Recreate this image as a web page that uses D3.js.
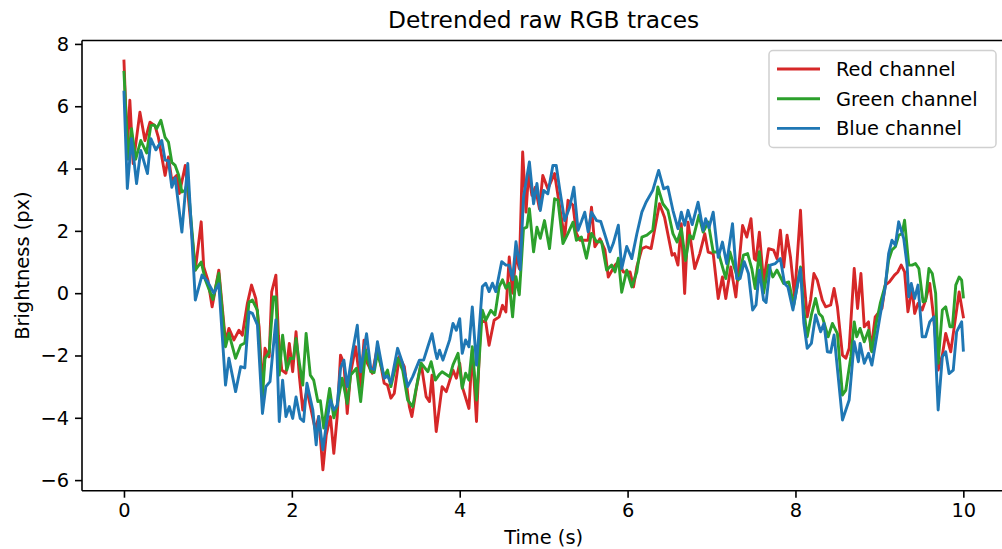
<!DOCTYPE html>
<html>
<head>
<meta charset="utf-8">
<script src="https://cdn.jsdelivr.net/npm/d3@7"></script>
<style>
  html, body { margin: 0; padding: 0; background: #fff; }
  svg { display: block; font-family: "DejaVu Sans", sans-serif; }
</style>
</head>
<body>
<svg id="chart" width="1002" height="549"></svg>
<script>
// ---- data (time in s, brightness in px) ----
const xTicks = [0, 2, 4, 6, 8, 10];
const yTicks = [-6, -4, -2, 0, 2, 4, 6, 8];
const seriesNames = ["Red channel", "Green channel", "Blue channel"];
const seriesColors = ["#d62728", "#2ca02c", "#1f77b4"];

const redData = [
[0,7.45],[0.04,4.6],[0.07,6.19],[0.11,4.16],[0.19,5.81],[0.25,4.9],[0.31,5.49],[0.37,5.37],[0.41,5.0],[0.49,3.78],[0.53,4.37],[0.57,3.62],[0.63,3.78],[0.66,3.2],[0.73,4.1],[0.85,0.74],[0.92,2.29],[0.95,0.84],[1.0,0.42],[1.05,-0.44],[1.13,0.74],
[1.21,-1.56],[1.25,-1.13],[1.31,-1.5],[1.37,-1.19],[1.41,-1.35],[1.47,-0.33],[1.52,0.26],[1.57,-0.17],[1.61,-1.08],[1.65,-3.1],[1.68,-1.77],[1.73,-2.04],[1.76,0.04],[1.81,0.58],[1.84,-1.35],[1.88,-2.47],[1.93,-2.57],[1.97,-1.61],[2.01,-2.52],[2.05,-1.24],[2.09,-2.68],[2.13,-3.75],[2.18,-3.11],[2.28,-4.39],[2.32,-3.96],[2.37,-5.67],[2.41,-4.55],[2.46,-3.96],[2.5,-5.14],
[2.54,-3.96],[2.58,-1.99],[2.62,-2.25],[2.66,-3.86],[2.7,-2.57],[2.76,-1.72],[2.82,-3.0],[2.86,-1.51],[2.9,-2.25],[2.96,-2.57],[3.02,-1.72],[3.1,-2.89],[3.14,-2.95],[3.18,-3.37],[3.22,-3.22],[3.28,-2.04],[3.34,-2.36],[3.4,-3.64],[3.43,-3.96],[3.48,-3.11],[3.54,-2.25],[3.6,-3.32],[3.64,-3.48],[3.67,-2.63],[3.72,-4.44],
[3.79,-3.0],[3.84,-3.16],[3.92,-2.47],[3.96,-2.73],[4.0,-2.25],[4.03,-3.0],[4.11,-3.7],[4.15,-1.83],[4.2,-4.12],[4.25,-0.87],[4.31,-0.92],[4.35,-1.67],[4.41,-0.87],[4.47,-0.76],[4.51,-0.39],[4.55,-0.6],[4.59,1.16],[4.63,0.0],[4.67,1.22],[4.71,0.79],[4.75,4.53],[4.79,2.6],[4.82,3.84],[4.86,3.14],[4.9,3.4],[4.95,2.71],[4.99,3.78],
[5.05,3.35],[5.13,3.84],[5.17,3.14],[5.25,1.75],[5.29,2.98],[5.35,2.82],[5.39,1.92],[5.43,1.7],[5.53,1.7],[5.57,2.76],[5.61,1.49],[5.67,1.75],[5.73,1.39],[5.77,0.52],[5.85,0.9],[5.89,1.0],[5.95,0.68],[6.03,0.68],[6.07,0.2],[6.11,0.84],[6.17,1.43],
[6.22,1.49],[6.28,1.43],[6.38,2.87],[6.44,2.44],[6.53,1.22],[6.56,1.27],[6.6,0.9],[6.64,2.23],[6.68,-0.01],[6.72,2.28],[6.8,0.79],[6.86,1.27],[6.92,1.91],[6.96,1.32],[7.02,1.27],[7.08,-0.17],[7.13,0.52],[7.17,-0.17],[7.23,0.84],[7.29,-0.12],[7.37,2.17],[7.42,1.8],[7.47,2.39],[7.51,1.11],
[7.53,1.06],[7.57,1.96],[7.62,0.36],[7.68,1.43],[7.74,1.38],[7.78,1.11],[7.82,2.02],[7.86,0.84],[7.9,1.86],[7.94,1.17],[7.99,-0.12],[8.06,2.66],[8.1,0.47],[8.14,-0.76],[8.18,-0.22],[8.22,0.63],[8.26,0.42],[8.32,-0.22],[8.36,-0.44],[8.42,-0.38],[8.46,0.15],[8.5,-0.44],[8.56,-1.99],[8.6,-2.09],[8.64,-1.77],[8.7,0.79],[8.74,-0.49],
[8.78,0.63],[8.82,-1.08],[8.87,-0.92],[8.9,-1.83],[8.95,-0.76],[9.03,-0.49],[9.07,0.26],[9.12,0.36],[9.18,0.58],[9.22,0.68],[9.26,0.9],[9.3,0.68],[9.34,-0.6],[9.39,0.15],[9.42,-0.65],[9.46,-0.33],[9.51,-0.54],[9.55,-0.22],[9.6,0.31],[9.65,-0.87],[9.7,-2.47],[9.75,-1.99],[9.79,-1.29],[9.85,-1.88],[9.9,-0.92],[9.95,0.04],[9.98,-0.44],[10.0,-0.76]
];

const greenData = [
[0,7.09],[0.05,4.3],[0.09,5.28],[0.14,4.3],[0.2,4.9],[0.27,4.5],[0.32,5.38],[0.36,5.4],[0.39,5.28],[0.44,5.55],[0.49,5.0],[0.53,4.85],[0.57,4.2],[0.61,4.1],[0.65,3.8],[0.69,3.25],[0.73,3.3],[0.76,3.6],[0.85,0.74],[0.92,1.0],[0.97,0.42],[1.06,-0.2],[1.13,0.64],
[1.21,-1.72],[1.25,-1.29],[1.33,-2.09],[1.39,-1.67],[1.44,-1.6],[1.49,-0.28],[1.53,-0.22],[1.59,-0.55],[1.65,-3.33],[1.68,-2.09],[1.73,-1.9],[1.78,-0.12],[1.81,-0.12],[1.85,-2.63],[1.89,-1.35],[1.94,-2.47],[1.98,-2.09],[2.02,-2.1],[2.05,-1.45],[2.09,-2.25],[2.13,-2.95],[2.17,-1.29],[2.22,-2.63],[2.26,-2.79],[2.31,-3.48],[2.34,-3.45],[2.38,-4.33],[2.45,-3.06],[2.5,-4.0],
[2.54,-3.59],[2.6,-2.73],[2.66,-3.54],[2.7,-2.63],[2.77,-2.41],[2.82,-3.48],[2.88,-1.83],[2.94,-2.52],[2.98,-2.55],[3.02,-1.93],[3.1,-2.68],[3.14,-2.47],[3.18,-3.0],[3.26,-2.09],[3.32,-2.47],[3.38,-3.43],[3.44,-3.64],[3.5,-2.79],[3.54,-2.25],[3.62,-2.52],[3.66,-2.2],[3.71,-2.79],
[3.76,-2.6],[3.79,-2.52],[3.88,-2.68],[3.92,-2.3],[3.98,-1.93],[4.03,-3.05],[4.07,-2.57],[4.11,-2.79],[4.15,-1.72],[4.2,-3.43],[4.27,-0.55],[4.31,-0.87],[4.37,-0.55],[4.42,-0.7],[4.47,0.21],[4.51,0.43],[4.55,0.16],[4.59,0.32],[4.63,-0.76],[4.67,0.53],[4.71,-0.05],[4.76,2.07],[4.8,2.12],[4.83,2.71],[4.88,1.33],[4.92,2.12],[4.96,1.76],[5.01,2.33],
[5.07,1.43],[5.13,3.03],[5.17,2.98],[5.23,1.59],[5.29,1.92],[5.35,2.28],[5.39,1.7],[5.45,1.8],[5.51,1.12],[5.57,1.92],[5.63,1.65],[5.69,1.65],[5.75,0.74],[5.81,0.9],[5.85,0.68],[5.89,1.12],[5.93,0.03],[5.99,0.74],[6.05,0.2],[6.11,0.68],[6.17,1.8],
[6.23,1.86],[6.3,2.02],[6.36,3.41],[6.42,2.87],[6.48,2.66],[6.54,1.91],[6.59,1.64],[6.64,2.07],[6.69,1.05],[6.74,1.86],[6.78,1.75],[6.85,2.5],[6.9,1.96],[6.96,2.28],[7.02,1.32],[7.08,1.32],[7.17,0.47],[7.22,1.32],[7.27,0.84],[7.32,0.42],[7.38,1.22],[7.43,1.27],[7.48,0.79],[7.52,0.15],
[7.57,1.33],[7.62,0.0],[7.68,0.9],[7.73,0.52],[7.78,0.74],[7.86,0.31],[7.92,0.36],[7.98,-0.38],[8.06,0.84],[8.1,-0.54],[8.14,-1.4],[8.19,-0.7],[8.24,-0.17],[8.28,-0.65],[8.32,-0.76],[8.39,-1.4],[8.44,-0.97],[8.5,-1.3],[8.56,-3.27],[8.6,-3.11],[8.66,-2.04],[8.7,-0.92],[8.73,-1.4],
[8.77,-1.13],[8.82,-1.56],[8.87,-1.19],[8.91,-1.88],[8.96,-1.0],[9.01,-0.33],[9.07,0.26],[9.11,1.06],[9.15,1.39],[9.19,1.49],[9.23,1.86],[9.27,1.91],[9.3,2.34],[9.35,0.9],[9.39,0.9],[9.43,0.95],[9.47,0.79],[9.52,-0.28],[9.55,-0.25],[9.59,0.79],[9.63,0.63],[9.67,0.0],[9.7,-2.25],[9.75,-0.54],[9.79,-0.44],[9.84,-1.08],[9.87,-1.08],[9.91,0.26],[9.95,0.52],[9.98,0.42],[10.0,-0.12]
];

const blueData = [
[0,6.45],[0.04,3.36],[0.09,4.96],[0.15,3.52],[0.2,4.58],[0.28,3.84],[0.32,4.96],[0.38,4.6],[0.45,4.9],[0.49,4.27],[0.53,4.25],[0.57,3.4],[0.61,3.7],[0.69,1.96],[0.76,4.16],[0.85,-0.22],[0.93,0.58],[0.99,0.4],[1.07,0.0],[1.13,0.3],
[1.21,-2.95],[1.25,-2.09],[1.33,-3.16],[1.39,-2.36],[1.44,-2.4],[1.49,-0.6],[1.53,-0.65],[1.59,-1.02],[1.65,-3.86],[1.69,-3.0],[1.74,-2.84],[1.81,-0.86],[1.85,-4.12],[1.89,-2.79],[1.93,-3.96],[1.97,-3.64],[2.01,-4.02],[2.05,-3.33],[2.1,-4.02],[2.14,-4.12],[2.18,-2.89],[2.25,-3.75],[2.29,-4.87],[2.32,-3.96],[2.37,-5.03],[2.41,-4.23],[2.46,-3.43],[2.5,-3.75],
[2.54,-3.6],[2.58,-2.41],[2.62,-2.15],[2.66,-3.0],[2.72,-1.93],[2.78,-1.03],[2.82,-2.52],[2.89,-1.3],[2.94,-2.41],[2.98,-2.45],[3.02,-1.56],[3.1,-2.73],[3.14,-2.65],[3.18,-2.89],[3.26,-1.77],[3.32,-2.25],[3.38,-3.0],[3.44,-2.68],[3.52,-2.15],[3.57,-2.15],[3.62,-1.72],[3.67,-1.3],[3.71,-1.88],
[3.73,-2.1],[3.76,-1.83],[3.8,-2.15],[3.88,-1.5],[3.92,-0.97],[3.96,-1.19],[4.0,-0.82],[4.03,-1.93],[4.07,-1.5],[4.11,-1.72],[4.15,-0.44],[4.2,-2.31],[4.27,0.21],[4.31,0.32],[4.35,0.05],[4.39,0.32],[4.43,0.05],[4.5,1.01],[4.55,0.9],[4.59,0.9],[4.63,0.43],[4.67,1.65],[4.72,0.75],[4.76,3.08],[4.83,4.21],[4.88,2.87],[4.92,3.52],[4.96,2.65],[5.0,3.3],
[5.05,3.19],[5.11,4.1],[5.15,4.1],[5.19,3.35],[5.25,2.33],[5.31,2.76],[5.36,3.4],[5.41,2.02],[5.45,2.3],[5.49,2.6],[5.53,1.97],[5.57,2.6],[5.63,2.33],[5.68,2.3],[5.75,1.7],[5.79,1.33],[5.83,1.6],[5.89,2.18],[5.93,0.79],[5.99,1.5],[6.05,1.11],[6.11,1.9],[6.17,2.6],
[6.22,2.92],[6.3,3.3],[6.37,3.94],[6.43,3.35],[6.48,3.41],[6.54,2.66],[6.6,2.07],[6.64,2.6],[6.68,2.18],[6.72,2.66],[6.77,2.2],[6.84,2.92],[6.9,2.02],[6.93,2.39],[6.97,2.1],[7.02,2.6],[7.08,1.15],[7.13,1.64],[7.18,0.95],[7.25,2.23],[7.3,0.47],[7.34,0.47],[7.39,1.01],[7.44,0.63],[7.49,-0.54],
[7.53,-0.38],[7.57,0.74],[7.62,-0.22],[7.65,-0.3],[7.7,0.9],[7.76,0.95],[7.82,1.11],[7.87,0.31],[7.91,0.2],[7.97,-0.54],[8.06,0.79],[8.1,-0.97],[8.14,-1.77],[8.19,-1.61],[8.24,-0.7],[8.3,-1.24],[8.34,-0.97],[8.38,-1.88],[8.42,-1.9],[8.46,-1.34],[8.56,-4.07],[8.6,-3.75],[8.64,-3.43],[8.7,-1.56],[8.75,-2.2],
[8.77,-1.61],[8.82,-2.25],[8.87,-1.93],[8.91,-2.31],[8.96,-1.51],[9.01,-0.7],[9.07,0.2],[9.11,1.27],[9.15,1.7],[9.19,1.54],[9.23,2.29],[9.29,1.75],[9.33,0.9],[9.35,-0.12],[9.38,0.31],[9.42,-0.17],[9.46,0.26],[9.51,-1.4],[9.55,-1.4],[9.6,-0.92],[9.65,-0.76],[9.7,-3.75],[9.75,-2.04],[9.79,-1.88],[9.83,-2.58],[9.88,-2.47],[9.92,-1.24],[9.98,-0.92],[10.0,-1.83]
];

const allSeries = [redData, greenData, blueData];

// ---- layout ----
const W = 1002, H = 549;
const plot = { left: 82, right: 1005.3, top: 40.5, bottom: 490.7 };
const fontTick = 19.4, fontTitle = 23.3;

const svg = d3.select("#chart");

const x = d3.scaleLinear().domain([-0.5, 10.5]).range([plot.left, plot.right]);
const y = d3.scaleLinear().domain([-6.34, 8.11]).range([plot.bottom, plot.top]);

svg.append("defs").append("clipPath").attr("id", "clip")
  .append("rect")
  .attr("x", plot.left).attr("y", plot.top)
  .attr("width", plot.right - plot.left).attr("height", plot.bottom - plot.top);

// lines
const line = d3.line().x(d => x(d[0])).y(d => y(d[1]));
const g = svg.append("g").attr("clip-path", "url(#clip)");
allSeries.forEach((s, i) => {
  g.append("path")
    .datum(s)
    .attr("d", line)
    .attr("fill", "none")
    .attr("stroke", seriesColors[i])
    .attr("stroke-width", 2.9)
    .attr("stroke-linejoin", "round")
    .attr("stroke-linecap", "square");
});

// axes
const fmt = d3.format("d");
const xAxis = d3.axisBottom(x).tickValues(xTicks).tickFormat(fmt).tickSize(7).tickPadding(6).tickSizeOuter(0);
const yAxis = d3.axisLeft(y).tickValues(yTicks).tickFormat(fmt).tickSize(7).tickPadding(6).tickSizeOuter(0);

const gx = svg.append("g").attr("transform", `translate(0,${plot.bottom})`).call(xAxis);
const gy = svg.append("g").attr("transform", `translate(${plot.left},0)`).call(yAxis);
[gx, gy].forEach(a => {
  a.select(".domain").remove();
  a.selectAll(".tick line").attr("stroke", "#000").attr("stroke-width", 1.6);
  a.selectAll(".tick text").attr("fill", "#000")
    .style("font-family", "DejaVu Sans").style("font-size", fontTick + "px");
});

// spines (left, bottom, top; right is outside the picture)
const spine = svg.append("g").attr("stroke", "#000").attr("stroke-width", 1.6).attr("fill", "none");
spine.append("line").attr("x1", plot.left).attr("x2", plot.left).attr("y1", plot.top).attr("y2", plot.bottom);
spine.append("line").attr("x1", plot.left).attr("x2", plot.right).attr("y1", plot.bottom).attr("y2", plot.bottom);
spine.append("line").attr("x1", plot.left).attr("x2", plot.right).attr("y1", plot.top).attr("y2", plot.top);
spine.append("line").attr("x1", plot.right).attr("x2", plot.right).attr("y1", plot.top).attr("y2", plot.bottom);

// title & labels
const cx = (plot.left + plot.right) / 2;
svg.append("text").attr("x", cx).attr("y", 28).attr("text-anchor", "middle")
  .style("font-size", fontTitle + "px").text("Detrended raw RGB traces");
svg.append("text").attr("x", cx).attr("y", 544).attr("text-anchor", "middle")
  .style("font-size", fontTick + "px").text("Time (s)");
svg.append("text")
  .attr("transform", `translate(29,${(plot.top + plot.bottom) / 2}) rotate(-90)`)
  .attr("text-anchor", "middle")
  .style("font-size", fontTick + "px").text("Brightness (px)");

// legend
const lg = svg.append("g");
lg.append("rect")
  .attr("x", 769).attr("y", 50.5).attr("width", 227).attr("height", 97)
  .attr("rx", 4).attr("ry", 4)
  .attr("fill", "rgba(255,255,255,0.8)")
  .attr("stroke", "#d0d0d0").attr("stroke-width", 1.5);
seriesNames.forEach((name, i) => {
  const yy = 69 + i * 29.7;
  lg.append("line").attr("x1", 777).attr("x2", 820).attr("y1", yy).attr("y2", yy)
    .attr("stroke", seriesColors[i]).attr("stroke-width", 2.9);
  lg.append("text").attr("x", 836).attr("y", yy + 7)
    .style("font-size", fontTick + "px").text(name);
});
</script>
</body>
</html>
